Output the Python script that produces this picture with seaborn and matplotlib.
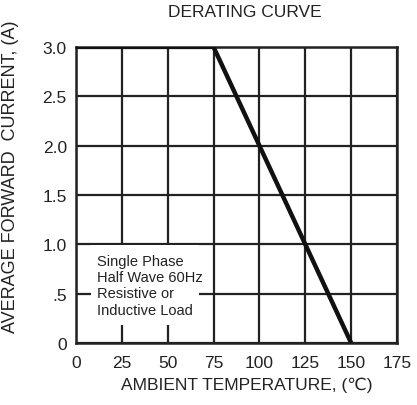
import matplotlib
matplotlib.use('Agg')
import matplotlib.pyplot as plt
from matplotlib.patches import Rectangle
import seaborn as sns
import pandas as pd

# derating curve points
temperature = [0, 75, 150]
current = [3.0, 3.0, 0.0]
x_ticks = [0, 25, 50, 75, 100, 125, 150, 175]
y_ticks = [0, 0.5, 1.0, 1.5, 2.0, 2.5, 3.0]
y_tick_labels = ['0', '.5', '1.0', '1.5', '2.0', '2.5', '3.0']
note_lines = ['Single Phase', 'Half Wave 60Hz', 'Resistive or', 'Inductive Load']

sns.set_style('white')
plt.rcParams['font.family'] = ['Liberation Sans', 'DejaVu Sans']

fig = plt.figure(figsize=(4.17, 4.06), dpi=100)
ax = fig.add_axes([0.182, 0.153, 0.770, 0.729])

df = pd.DataFrame({'temp': temperature, 'current': current})
sns.lineplot(data=df, x='temp', y='current', ax=ax, color='#111111',
             linewidth=3.2, zorder=5, solid_capstyle='butt')

ax.set_xlim(0, 175)
ax.set_ylim(0, 3.0)
ax.set_xticks(x_ticks)
ax.set_yticks(y_ticks)
ax.set_yticklabels(y_tick_labels)
ax.grid(True, color='#222222', linewidth=1.6)
for s in ax.spines.values():
    s.set_color('#222222')
    s.set_linewidth(1.8)
ax.tick_params(length=0, labelsize=12.5, colors='#222222')
ax.tick_params(axis='x', pad=9)
ax.tick_params(axis='y', pad=6.5)

# white panel behind the note
ax.add_patch(Rectangle((8.2, 0.18), 58.9, 0.81, facecolor='white',
                       edgecolor='none', zorder=4))
ax.text(11.5, 0.90, '\n'.join(note_lines), fontsize=10.5, color='#222222',
        va='top', ha='left', linespacing=1.2, zorder=6)

ax.set_xlabel('AMBIENT TEMPERATURE, (\u2103)', fontsize=12.5, color='#222222')
ax.xaxis.set_label_coords(0.533, -0.115)
ax.set_ylabel('AVERAGE FORWARD  CURRENT, (A)', fontsize=13, color='#222222')
ax.yaxis.set_label_coords(-0.178, 0.564)
fig.text(0.588, 0.97, 'DERATING CURVE', fontsize=12.5, color='#222222', ha='center', va='center')

fig.savefig('out.png', dpi=100)
